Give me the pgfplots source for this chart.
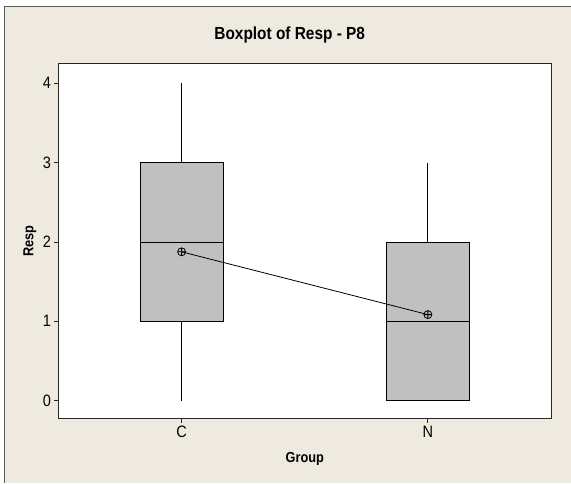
\documentclass[border=0pt]{standalone}
\usepackage{fontspec}
\setmainfont{Liberation Sans}[FakeStretch=0.88]
\usepackage{pgfplots}
\pgfplotsset{compat=1.18}
\usepgfplotslibrary{statistics}
\definecolor{bgbeige}{RGB}{238,234,224}
\definecolor{boxgray}{RGB}{192,192,192}
\definecolor{framegray}{RGB}{90,90,90}
\begin{document}
\begin{tikzpicture}
\useasboundingbox (0,0) rectangle (571pt,483pt);
\fill[white] (0,0) rectangle (571pt,483pt);
\fill[bgbeige] (4.5pt,0) rectangle (571pt,476.5pt);
\draw[framegray,line width=1.2pt] (4.5pt,0) -- (4.5pt,476.5pt) -- (571pt,476.5pt);
\begin{axis}[
  at={(58.5pt,64.5pt)}, anchor=south west,
  scale only axis, width=492.5pt, height=355pt,
  xmin=-0.5, xmax=1.5, ymin=-0.227, ymax=4.25,
  xtick={0,1}, xticklabels={C,N}, ytick={0,1,2,3,4},
  tick align=outside, xtick pos=bottom, ytick pos=left,
  major tick length=4pt,
  /pgf/number format/assume math mode=true,
  tick label style={font=\fontsize{16.5}{18}\selectfont},
  axis line style={black!85, line width=0.9pt},
  every tick/.style={black!85, line width=0.8pt},
  axis background/.style={fill=white},
  boxplot/draw direction=y,
  title={Boxplot of Resp - P8},
  title style={font=\bfseries\fontsize{17.5}{19}\selectfont, at={(axis description cs:0.4695,1.0501)}, anchor=base},
  xlabel={Group},
  xlabel style={font=\bfseries\fontsize{14.5}{16}\selectfont, at={(axis description cs:0.5,-0.124)}, anchor=base},
  ylabel={Resp},
  ylabel style={font=\bfseries\fontsize{14.5}{16}\selectfont, at={(axis description cs:-0.0579,0.5)}, anchor=center},
]
\addplot[draw=black, fill=boxgray, line width=0.8pt,
  boxplot prepared={lower whisker=0, lower quartile=1, median=2, upper quartile=3, upper whisker=4, draw position=0, box extend=0.337, whisker extend=0}]
  coordinates {};
\addplot[draw=black, fill=boxgray, line width=0.8pt,
  boxplot prepared={lower whisker=0, lower quartile=0, median=1, upper quartile=2, upper whisker=3, draw position=1, box extend=0.337, whisker extend=0}]
  coordinates {};
\addplot[black, line width=0.8pt, mark=oplus, mark size=4pt, mark options={solid, fill=none}]
  coordinates {(0,1.875) (1,1.0833)};
\end{axis}
\end{tikzpicture}
\end{document}
